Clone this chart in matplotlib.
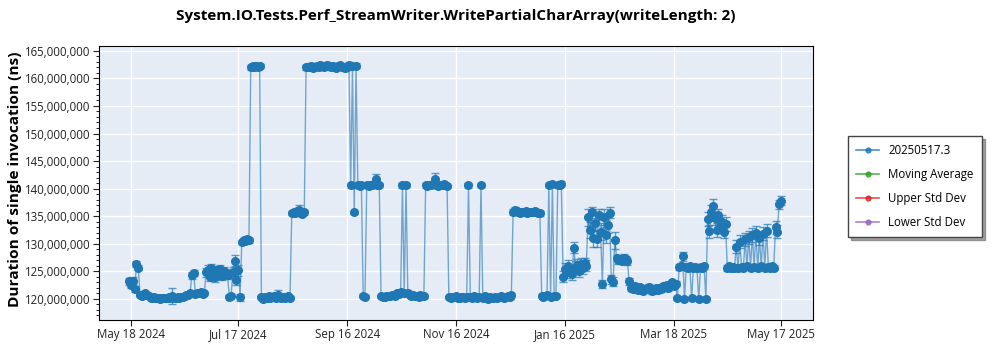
import numpy as np
import pandas as pd
import matplotlib
matplotlib.use('Agg')
import matplotlib.pyplot as plt
import matplotlib.dates as mdates
from matplotlib.ticker import FuncFormatter, AutoMinorLocator
from matplotlib.lines import Line2D

plt.rcParams['font.family'] = ['Open Sans', 'DejaVu Sans']

title = 'System.IO.Tests.Perf_StreamWriter.WritePartialCharArray(writeLength: 2)'
series_name = '20250517.3'

# one result per day, starting 2024-05-17 (values in millions of ns)
start_date = '2024-05-17'
durations_ms = [
    123.2, 122.6, 123.3, 121.8, 126.3, 125.7, 120.8, 120.6, 120.9, 121.0,
    120.8, 120.5, 120.2, 120.1, 120.3, 120.1, 120.2, 120.0, 120.2, 120.1,
    120.2, 120.1, 120.3, 120.2, 120.5, 120.2, 120.1, 120.3, 120.2, 120.4,
    120.3, 120.6, 120.8, 120.7, 121.0, 124.3, 124.7, 120.9, 121.1, 121.0,
    121.2, 120.9, 121.0, 124.8, 125.3, 124.0, 125.6, 124.5, 123.9, 125.2,
    124.6, 125.4, 124.2, 125.0, 124.7, 124.4, 120.4, 120.6, 124.8, 126.9,
    123.5, 125.2, 120.3, 130.3, 130.6, 130.5, 130.8, 130.6, 162.0, 162.2,
    162.1, 162.3, 162.0, 162.2, 120.3, 120.0, 120.4, 120.2, 120.6, 120.1,
    120.3, 120.5, 120.2, 120.7, 120.3, 120.1, 120.4, 120.2, 120.3, 120.5,
    120.2, 135.6, 135.8, 135.5, 135.9, 136.1, 135.6, 135.4, 135.7, 162.0,
    162.1, 162.0, 162.3, 161.9, 162.1, 162.2, 162.0, 162.4, 162.2, 162.1,
    162.3, 162.5, 162.2, 162.0, 162.3, 162.1, 161.9, 162.2, 162.4, 162.0,
    162.1, 161.8, 162.0, 162.5, 140.6, 162.2, 135.7, 162.3, 140.6, 140.5,
    140.7, 120.6, 120.4, 140.6, 140.5, 140.7, 140.6, 140.8, 141.7, 140.6,
    140.7, 120.5, 120.3, 120.4, 120.6, 120.5, 120.6, 120.7, 120.8, 120.6,
    121.0, 120.9, 121.2, 140.6, 121.0, 140.7, 121.1, 120.8, 120.6, 120.7,
    120.5, 120.6, 120.4, 120.8, 120.6, 120.5, 140.6, 140.5, 140.7, 140.6,
    140.8, 141.8, 140.6, 140.5, 140.7, 140.6, 140.8, 140.6, 140.5, 120.3,
    120.2, 120.4, 120.3, 120.5, 120.2, 120.1, 120.3, 120.4, 120.2, 120.3,
    140.6, 120.4, 120.2, 120.6, 120.3, 120.1, 120.4, 140.7, 120.2, 120.5,
    120.3, 120.0, 120.4, 120.2, 120.1, 120.3, 120.2, 120.4, 120.5, 120.3,
    120.1, 120.4, 120.6, 120.3, 120.7, 135.8, 136.1, 135.9, 135.7, 135.6,
    135.8, 135.7, 135.9, 135.6, 135.7, 135.8, 135.7, 135.9, 135.8, 135.6,
    135.5, 120.6, 120.3, 120.5, 120.7, 140.7, 120.4, 140.8, 120.5, 120.6,
    140.6, 140.7, 140.9, 124.0, 125.5, 124.8, 126.0, 125.2, 124.5, 129.3,
    125.8, 126.2, 125.0, 126.4, 125.6, 126.5, 126.0, 134.8, 132.5, 135.7,
    131.0, 133.8, 130.9, 135.3, 132.2, 122.7, 134.9, 131.6, 133.4, 135.6,
    123.6, 123.1, 130.6, 127.4, 127.0, 127.3, 126.9, 127.5, 127.2, 126.8,
    123.2, 122.0, 121.8, 122.3, 121.9, 121.6, 122.1, 121.7, 121.5, 121.8,
    122.0, 122.2, 121.6, 121.4, 121.7, 121.9, 121.6, 122.0, 121.8, 122.3,
    122.1, 122.5, 122.0, 122.6, 123.0, 122.4, 122.8, 120.1, 125.8, 126.0,
    127.7, 120.0, 125.8, 125.6, 125.9, 120.1, 125.7, 125.8, 125.6, 119.9,
    125.8, 125.6, 125.9, 120.0, 134.5, 132.3, 135.8, 136.9, 134.6, 132.5,
    135.2, 133.1, 134.0, 132.2, 133.6, 125.6, 125.9, 125.7, 125.8, 125.6,
    129.5, 125.7, 130.4, 125.8, 125.6, 130.8, 125.9, 131.2, 125.7, 131.6,
    125.8, 132.0, 125.6, 131.0, 125.9, 131.8, 125.7, 132.4, 125.8, 125.6,
    125.9, 125.7, 133.0, 132.2, 137.2, 137.8,
]
errors_ms = [
    0.6, 0.6, 0.6, 0.6, 0.5, 0.5, 0.3, 0.3, 0.3, 0.3,
    0.3, 0.3, 0.3, 0.3, 0.3, 0.3, 0.3, 0.3, 0.3, 0.3,
    0.3, 0.3, 0.3, 0.3, 1.5, 0.3, 0.3, 0.3, 0.3, 0.3,
    0.3, 0.3, 0.3, 0.3, 0.3, 0.6, 0.6, 0.3, 0.3, 0.3,
    0.3, 0.3, 0.3, 0.8, 0.8, 0.8, 0.8, 0.8, 0.8, 0.8,
    0.8, 0.8, 0.8, 0.8, 0.8, 0.8, 0.3, 0.3, 1.0, 1.0,
    1.0, 1.0, 0.6, 0.3, 0.5, 0.5, 0.5, 0.5, 0.4, 0.4,
    0.4, 0.4, 0.4, 0.4, 0.3, 0.3, 0.3, 0.3, 0.3, 0.3,
    0.3, 0.3, 0.3, 1.0, 0.3, 0.3, 0.3, 0.3, 0.3, 0.3,
    0.3, 0.4, 0.4, 0.4, 0.4, 1.0, 0.4, 0.4, 0.4, 0.4,
    0.4, 0.4, 0.4, 0.4, 0.4, 0.4, 0.4, 0.4, 0.4, 0.4,
    0.4, 0.4, 0.4, 0.4, 0.4, 0.4, 0.4, 0.4, 0.4, 0.4,
    0.4, 0.4, 0.4, 0.4, 0.4, 0.4, 0.3, 0.4, 0.4, 0.4,
    0.4, 0.3, 0.3, 0.4, 0.4, 0.4, 0.4, 0.4, 1.0, 0.4,
    0.4, 0.3, 0.3, 0.3, 0.3, 0.3, 0.3, 0.3, 0.3, 0.3,
    0.4, 0.3, 0.4, 0.4, 0.3, 0.4, 0.3, 0.3, 0.3, 0.3,
    0.3, 0.3, 0.3, 0.3, 0.3, 0.3, 0.4, 0.4, 0.4, 0.4,
    0.4, 1.0, 0.4, 0.4, 0.4, 0.4, 0.4, 0.4, 0.4, 0.3,
    0.3, 0.3, 0.3, 0.3, 0.3, 0.3, 0.3, 0.3, 0.3, 0.3,
    0.4, 0.3, 0.3, 0.3, 0.3, 0.3, 0.3, 0.4, 0.3, 0.3,
    0.3, 0.3, 0.3, 0.3, 0.3, 0.3, 0.3, 0.3, 0.3, 0.3,
    0.3, 0.3, 0.3, 0.3, 0.3, 0.5, 0.5, 0.4, 0.4, 0.4,
    0.4, 0.4, 0.4, 0.4, 0.4, 0.4, 0.4, 0.4, 0.4, 0.4,
    0.4, 0.3, 0.3, 0.3, 0.3, 0.4, 0.3, 0.4, 0.3, 0.3,
    0.4, 0.4, 0.4, 1.0, 1.0, 1.0, 1.0, 1.0, 1.0, 1.0,
    1.0, 1.0, 1.0, 1.0, 1.0, 1.0, 1.0, 1.5, 1.5, 1.0,
    1.5, 1.5, 1.5, 1.0, 1.5, 0.8, 1.5, 1.5, 1.5, 1.0,
    0.8, 0.8, 1.5, 0.6, 0.6, 0.6, 0.6, 0.6, 0.6, 0.6,
    0.6, 0.5, 0.5, 0.5, 0.5, 0.5, 0.5, 0.5, 0.5, 0.5,
    0.5, 0.5, 0.5, 0.5, 0.5, 0.5, 0.5, 0.5, 0.5, 0.5,
    0.5, 0.5, 0.5, 0.5, 0.5, 0.5, 0.5, 0.3, 0.5, 0.5,
    0.9, 0.3, 0.5, 0.5, 0.5, 0.3, 0.5, 0.5, 0.5, 0.3,
    0.5, 0.5, 0.5, 0.3, 1.2, 1.2, 1.2, 1.2, 1.2, 1.2,
    1.2, 1.2, 1.2, 1.2, 1.2, 0.5, 0.5, 0.5, 0.5, 0.5,
    1.2, 0.5, 1.2, 0.5, 0.5, 1.2, 0.5, 1.2, 0.5, 1.2,
    0.5, 1.2, 0.5, 1.2, 0.5, 1.2, 0.5, 1.2, 0.5, 0.5,
    0.5, 0.5, 1.2, 1.2, 0.8, 0.8,
]
tick_dates = ['2024-05-18', '2024-07-17', '2024-09-16', '2024-11-16',
              '2025-01-16', '2025-03-18', '2025-05-17']
legend_labels = [series_name, 'Moving Average', 'Upper Std Dev', 'Lower Std Dev']
legend_colors = ['#1f77b4', '#2ca02c', '#d62728', '#9467bd']

dates = pd.Timestamp(start_date) + pd.to_timedelta(np.arange(len(durations_ms)), unit='D')
vals = np.array(durations_ms) * 1e6
errs = np.array(errors_ms) * 1e6

fig = plt.figure(figsize=(10, 3.5), dpi=100)
ax = fig.add_axes([0.099, 0.086, 0.714, 0.783])
ax.set_facecolor('#e5ecf6')

ax.plot(dates, vals, '-', color='#1f77b4', lw=1, alpha=0.6, zorder=2)
ax.errorbar(dates, vals, yerr=errs, fmt='o', color='#1f77b4', ms=5.5,
            ecolor=(0.12, 0.47, 0.71, 0.7), elinewidth=1, capsize=3, zorder=3)

ax.set_xlim(pd.Timestamp('2024-04-30'), pd.Timestamp('2025-06-04'))
ax.set_ylim(116.2e6, 165.9e6)
ax.set_xticks(pd.to_datetime(tick_dates))
ax.xaxis.set_major_formatter(mdates.DateFormatter('%b %d %Y'))
ax.set_yticks(np.arange(120e6, 166e6, 5e6))
ax.yaxis.set_major_formatter(FuncFormatter(lambda v, p: '{:,.0f}'.format(v)))
ax.yaxis.set_minor_locator(AutoMinorLocator(5))
ax.tick_params(axis='both', labelsize=8.3, colors='#222222', length=4, pad=2)
ax.tick_params(axis='y', which='minor', length=2)
ax.grid(True, color='white', lw=1)
ax.set_axisbelow(True)
for s in ax.spines.values():
    s.set_color('black')

ax.set_ylabel('Duration of single invocation (ns)', fontsize=11.1, fontweight='bold')
ax.yaxis.set_label_coords(-0.108, 0.515)
fig.suptitle(title, x=0.456, y=0.975, fontsize=11, fontweight='bold')

handles = [Line2D([0], [0], color=c, marker='o', ms=3.5, lw=1.2, alpha=0.8)
           for c in legend_colors]
leg = fig.legend(handles, legend_labels, loc='upper left', bbox_to_anchor=(0.848, 0.611),
                 borderaxespad=0, fontsize=8.3, fancybox=False, shadow=True,
                 edgecolor='#444444', handlelength=2, borderpad=0.7,
                 labelspacing=0.95, framealpha=1)
leg.get_frame().set_linewidth(1)

fig.savefig('out.png', dpi=100)
